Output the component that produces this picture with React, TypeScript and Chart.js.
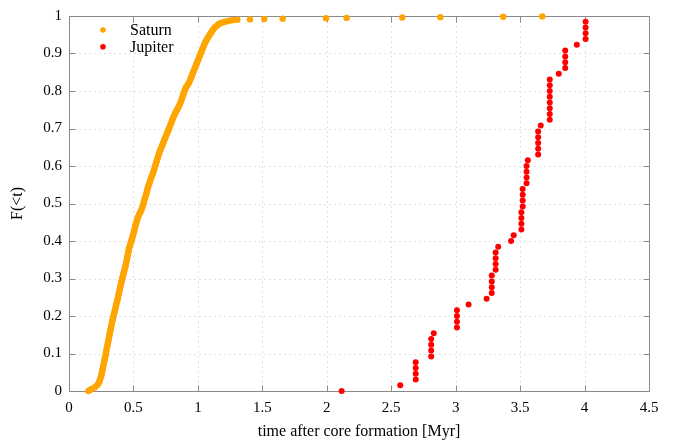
import React, { useEffect, useRef } from "react";
import { Chart, registerables } from "chart.js";

Chart.register(...registerables);

// ---- Data -------------------------------------------------------------
// Saturn: sorted formation times (subsample of the empirical CDF) and their CDF values
const saturnTimes = [
  0.150, 0.163, 0.180, 0.200, 0.216, 0.228, 0.235, 0.240, 0.245, 0.249,
  0.253, 0.256, 0.259, 0.262, 0.265, 0.268, 0.271, 0.274, 0.277, 0.280,
  0.283, 0.286, 0.288, 0.291, 0.294, 0.297, 0.300, 0.303, 0.306, 0.309,
  0.311, 0.314, 0.317, 0.320, 0.323, 0.326, 0.329, 0.332, 0.335, 0.338,
  0.342, 0.345, 0.349, 0.352, 0.356, 0.360, 0.363, 0.366, 0.370, 0.374,
  0.377, 0.380, 0.383, 0.386, 0.390, 0.393, 0.396, 0.399, 0.403, 0.406,
  0.410, 0.413, 0.417, 0.420, 0.424, 0.428, 0.432, 0.436, 0.439, 0.442,
  0.445, 0.448, 0.451, 0.454, 0.457, 0.460, 0.462, 0.465, 0.470, 0.474,
  0.479, 0.483, 0.488, 0.492, 0.496, 0.500, 0.504, 0.508, 0.511, 0.515,
  0.519, 0.523, 0.527, 0.531, 0.537, 0.543, 0.551, 0.558, 0.564, 0.569,
  0.574, 0.578, 0.581, 0.585, 0.590, 0.595, 0.599, 0.603, 0.606, 0.609,
  0.614, 0.619, 0.624, 0.629, 0.634, 0.639, 0.645, 0.650, 0.655, 0.659,
  0.664, 0.668, 0.673, 0.677, 0.682, 0.686, 0.691, 0.695, 0.700, 0.705,
  0.711, 0.717, 0.723, 0.729, 0.735, 0.740, 0.746, 0.752, 0.758, 0.764,
  0.770, 0.776, 0.782, 0.787, 0.793, 0.798, 0.804, 0.810, 0.816, 0.823,
  0.830, 0.838, 0.846, 0.853, 0.860, 0.866, 0.871, 0.876, 0.881, 0.886,
  0.891, 0.896, 0.902, 0.908, 0.918, 0.927, 0.934, 0.940, 0.946, 0.952,
  0.957, 0.963, 0.969, 0.975, 0.981, 0.987, 0.992, 0.998, 1.004, 1.010,
  1.015, 1.021, 1.027, 1.033, 1.039, 1.045, 1.051, 1.057, 1.065, 1.073,
  1.082, 1.092, 1.101, 1.110, 1.120, 1.132, 1.150, 1.160, 1.170,
  1.185, 1.205, 1.228, 1.252, 1.275,
  1.306, 1.404, 1.515, 1.658, 1.994, 2.154, 2.586, 2.881, 3.369, 3.672,
];
const saturnFractions = [
  0.000, 0.003, 0.006, 0.010, 0.015, 0.020, 0.025, 0.030, 0.035, 0.040,
  0.045, 0.050, 0.055, 0.060, 0.065, 0.070, 0.075, 0.080, 0.085, 0.090,
  0.095, 0.100, 0.105, 0.110, 0.115, 0.120, 0.125, 0.130, 0.135, 0.140,
  0.145, 0.150, 0.155, 0.160, 0.165, 0.170, 0.175, 0.180, 0.185, 0.190,
  0.195, 0.200, 0.205, 0.210, 0.215, 0.220, 0.225, 0.230, 0.235, 0.240,
  0.245, 0.250, 0.255, 0.260, 0.265, 0.270, 0.275, 0.280, 0.285, 0.290,
  0.295, 0.300, 0.305, 0.310, 0.315, 0.320, 0.325, 0.330, 0.335, 0.340,
  0.345, 0.350, 0.355, 0.360, 0.365, 0.370, 0.375, 0.380, 0.385, 0.390,
  0.395, 0.400, 0.405, 0.410, 0.415, 0.420, 0.425, 0.430, 0.435, 0.440,
  0.445, 0.450, 0.455, 0.460, 0.465, 0.470, 0.475, 0.480, 0.485, 0.490,
  0.495, 0.500, 0.505, 0.510, 0.515, 0.520, 0.525, 0.530, 0.535, 0.540,
  0.545, 0.550, 0.555, 0.560, 0.565, 0.570, 0.575, 0.580, 0.585, 0.590,
  0.595, 0.600, 0.605, 0.610, 0.615, 0.620, 0.625, 0.630, 0.635, 0.640,
  0.645, 0.650, 0.655, 0.660, 0.665, 0.670, 0.675, 0.680, 0.685, 0.690,
  0.695, 0.700, 0.705, 0.710, 0.715, 0.720, 0.725, 0.730, 0.735, 0.740,
  0.745, 0.750, 0.755, 0.760, 0.765, 0.770, 0.775, 0.780, 0.785, 0.790,
  0.795, 0.800, 0.805, 0.810, 0.815, 0.820, 0.825, 0.830, 0.835, 0.840,
  0.845, 0.850, 0.855, 0.860, 0.865, 0.870, 0.875, 0.880, 0.885, 0.890,
  0.895, 0.900, 0.905, 0.910, 0.915, 0.920, 0.925, 0.930, 0.935, 0.940,
  0.945, 0.950, 0.955, 0.960, 0.965, 0.970, 0.975, 0.978, 0.980,
  0.982, 0.984, 0.986, 0.988, 0.989,
  0.990, 0.991, 0.992, 0.993, 0.994, 0.995, 0.996, 0.997, 0.998, 0.999,
];

// Jupiter: 65 sorted formation times and their CDF values
const jupiterTimes = [
  2.115, 2.57, 2.69, 2.69, 2.69, 2.69, 2.81, 2.81, 2.81, 2.81,
  2.83, 3.01, 3.01, 3.01, 3.01, 3.10, 3.24, 3.28, 3.28, 3.28,
  3.28, 3.31, 3.31, 3.31, 3.31, 3.33, 3.43, 3.45, 3.51, 3.51,
  3.51, 3.51, 3.52, 3.52, 3.52, 3.52, 3.55, 3.55, 3.55, 3.55,
  3.56, 3.64, 3.64, 3.64, 3.64, 3.64, 3.66, 3.73, 3.73, 3.73,
  3.73, 3.73, 3.73, 3.73, 3.73, 3.80, 3.85, 3.85, 3.85, 3.85,
  3.94, 4.008, 4.008, 4.008, 4.008,
];
const jupiterFractions = [
  0.0, 0.0154, 0.0308, 0.0462, 0.0615, 0.0769, 0.0923, 0.1077, 0.1231, 0.1385,
  0.1538, 0.1692, 0.1846, 0.2, 0.2154, 0.2308, 0.2462, 0.2615, 0.2769, 0.2923,
  0.3077, 0.3231, 0.3385, 0.3538, 0.3692, 0.3846, 0.4, 0.4154, 0.4308, 0.4462,
  0.4615, 0.4769, 0.4923, 0.5077, 0.5231, 0.5385, 0.5538, 0.5692, 0.5846, 0.6,
  0.6154, 0.6308, 0.6462, 0.6615, 0.6769, 0.6923, 0.7077, 0.7231, 0.7385, 0.7538,
  0.7692, 0.7846, 0.8, 0.8154, 0.8308, 0.8462, 0.8615, 0.8769, 0.8923, 0.9077,
  0.9231, 0.9385, 0.9538, 0.9692, 0.9846,
];

const seriesNames = ["Saturn", "Jupiter"];
const xTickValues = [0, 0.5, 1, 1.5, 2, 2.5, 3, 3.5, 4, 4.5];
const xTickLabels = ["0", "0.5", "1", "1.5", "2", "2.5", "3", "3.5", "4", "4.5"];
const yTickValues = [0, 0.1, 0.2, 0.3, 0.4, 0.5, 0.6, 0.7, 0.8, 0.9, 1];
const yTickLabels = ["0", "0.1", "0.2", "0.3", "0.4", "0.5", "0.6", "0.7", "0.8", "0.9", "1"];
const xTitle = "time after core formation [Myr]";
const yTitle = "F(<t)";

const SATURN_COLOR = "#ffa500";
const JUPITER_COLOR = "#ff0000";
const FONT_FAMILY = '"Liberation Serif", "Times New Roman", serif';

const framePlugin = {
  id: "gnuFrame",
  beforeDatasetsDraw(chart: any) {
    const { ctx, chartArea, scales } = chart;
    const { left, right, top, bottom } = chartArea;
    const xs = scales.x;
    const ys = scales.y;
    ctx.save();
    // dotted grid
    ctx.strokeStyle = "#e2e2e2";
    ctx.lineWidth = 1;
    ctx.setLineDash([2, 3]);
    xTickValues.forEach((v) => {
      const px = Math.round(xs.getPixelForValue(v)) + 0.5;
      ctx.beginPath();
      ctx.moveTo(px, top);
      ctx.lineTo(px, bottom);
      ctx.stroke();
    });
    yTickValues.forEach((v) => {
      const py = Math.round(ys.getPixelForValue(v)) + 0.5;
      ctx.beginPath();
      ctx.moveTo(left, py);
      ctx.lineTo(right, py);
      ctx.stroke();
    });
    ctx.setLineDash([]);
    // frame
    ctx.strokeStyle = "#8a8a8a";
    ctx.lineWidth = 1;
    const l = Math.round(left) + 0.5;
    const r = Math.round(right) + 0.5;
    const t = Math.round(top) + 0.5;
    const b = Math.round(bottom) + 0.5;
    ctx.strokeRect(l, t, r - l, b - t);
    // inward ticks on all sides
    const tl = 6;
    xTickValues.forEach((v) => {
      const px = Math.round(xs.getPixelForValue(v)) + 0.5;
      ctx.beginPath();
      ctx.moveTo(px, b);
      ctx.lineTo(px, b - tl);
      ctx.moveTo(px, t);
      ctx.lineTo(px, t + tl);
      ctx.stroke();
    });
    yTickValues.forEach((v) => {
      const py = Math.round(ys.getPixelForValue(v)) + 0.5;
      ctx.beginPath();
      ctx.moveTo(l, py);
      ctx.lineTo(l + tl, py);
      ctx.moveTo(r, py);
      ctx.lineTo(r - tl, py);
      ctx.stroke();
    });
    ctx.restore();
  },
  afterDatasetsDraw(chart: any) {
    const { ctx, chartArea } = chart;
    const { left, right, top, bottom } = chartArea;
    ctx.save();
    // legend
    ctx.font = `16px ${FONT_FAMILY}`;
    ctx.textBaseline = "middle";
    ctx.textAlign = "left";
    const colors = [SATURN_COLOR, JUPITER_COLOR];
    seriesNames.forEach((name, i) => {
      const cy = top + 14 + i * 16.7;
      ctx.fillStyle = colors[i];
      ctx.beginPath();
      ctx.arc(left + 34, cy, 2.8, 0, Math.PI * 2);
      ctx.fill();
      ctx.fillStyle = "#000";
      ctx.fillText(name, left + 61, cy + 1);
    });
    // axis titles
    ctx.font = `16px ${FONT_FAMILY}`;
    ctx.fillStyle = "#000";
    ctx.textAlign = "center";
    ctx.fillText(xTitle, (left + right) / 2, 432);
    ctx.translate(18, (top + bottom) / 2);
    ctx.rotate(-Math.PI / 2);
    ctx.fillText(yTitle, 0, 0);
    ctx.restore();
  },
};

export default function App() {
  const canvasRef = useRef<HTMLCanvasElement | null>(null);

  useEffect(() => {
    document.body.style.margin = "0";
    const canvas = canvasRef.current;
    if (!canvas) return;
    const saturnData = saturnTimes.map((t, i) => ({ x: t, y: saturnFractions[i] }));
    const jupiterData = jupiterTimes.map((t, i) => ({ x: t, y: jupiterFractions[i] }));
    const tickFont = { family: FONT_FAMILY, size: 15 };
    const chart = new Chart(canvas, {
      type: "scatter",
      data: {
        datasets: [
          {
            label: seriesNames[0],
            data: saturnData,
            backgroundColor: SATURN_COLOR,
            borderColor: SATURN_COLOR,
            borderWidth: 0,
            pointRadius: 3.2,
            clip: false as any,
          },
          {
            label: seriesNames[1],
            data: jupiterData,
            backgroundColor: JUPITER_COLOR,
            borderColor: JUPITER_COLOR,
            borderWidth: 0,
            pointRadius: 3,
            clip: false as any,
          },
        ],
      },
      options: {
        animation: false,
        responsive: false,
        devicePixelRatio: 1,
        layout: { padding: { top: 11, right: 38, left: 0, bottom: 0 } },
        plugins: { legend: { display: false }, tooltip: { enabled: false } },
        events: [],
        scales: {
          x: {
            type: "linear",
            min: 0,
            max: 4.5,
            afterBuildTicks: (s: any) => {
              s.ticks = xTickValues.map((v) => ({ value: v }));
            },
            afterFit: (s: any) => {
              s.height = 52;
            },
            ticks: {
              autoSkip: false,
              maxRotation: 0,
              padding: 8,
              color: "#000",
              font: tickFont,
              callback: (_v: any, i: number) => xTickLabels[i],
            },
            grid: { display: false, drawTicks: false },
            border: { display: false },
          },
          y: {
            type: "linear",
            min: 0,
            max: 1,
            afterBuildTicks: (s: any) => {
              s.ticks = yTickValues.map((v) => ({ value: v }));
            },
            afterFit: (s: any) => {
              s.width = 69;
            },
            ticks: {
              autoSkip: false,
              padding: 7,
              color: "#000",
              font: tickFont,
              callback: (_v: any, i: number) => yTickLabels[i],
            },
            grid: { display: false, drawTicks: false },
            border: { display: false },
          },
        },
      },
      plugins: [framePlugin],
    });
    return () => chart.destroy();
  }, []);

  return (
    <div style={{ width: 687, height: 443, position: "relative" }}>
      <canvas ref={canvasRef} width={687} height={443} style={{ display: "block" }} />
    </div>
  );
}
